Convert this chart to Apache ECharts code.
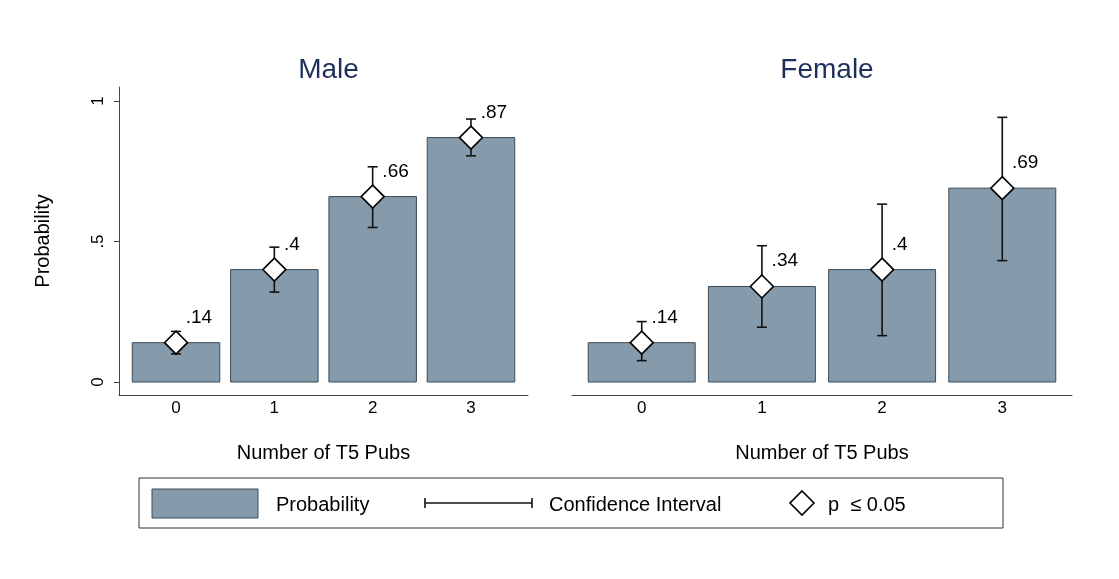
<!DOCTYPE html>
<html>
<head>
<meta charset="utf-8">
<script src="https://cdn.jsdelivr.net/npm/echarts@6/dist/echarts.min.js"></script>
<style>
  html, body { margin: 0; padding: 0; background: #fff; }
  #chart { width: 1119px; height: 579px; }
</style>
</head>
<body>
<div id="chart"></div>
<script>
// data
const categories = [0, 1, 2, 3];
const panelTitles = ['Male', 'Female'];
const maleProb = [0.14, 0.40, 0.66, 0.87];
const maleLow = [0.10, 0.32, 0.55, 0.805];
const maleHigh = [0.18, 0.48, 0.766, 0.936];
const femaleProb = [0.14, 0.34, 0.40, 0.69];
const femaleLow = [0.076, 0.195, 0.165, 0.432];
const femaleHigh = [0.215, 0.485, 0.633, 0.942];
const yTicks = [0, 0.5, 1];
const yTickLabels = ['0', '.5', '1'];

const barColor = '#859aab';
const barEdge = '#3c4a56';
const font = 'Liberation Sans, Arial, Helvetica, sans-serif';
const halfBar = 0.445;

const chart = echarts.init(document.getElementById('chart'));

function fmt(v) {
  return String(+v.toFixed(2)).replace(/^0/, '');
}

function xAxisFor(i) {
  return {
    type: 'value', gridIndex: i, min: -0.58, max: 3.58,
    name: 'Number of T5 Pubs', nameLocation: 'middle', nameGap: 48,
    nameTextStyle: { fontFamily: font, fontSize: 20, color: '#000' },
    axisLine: { onZero: false, lineStyle: { color: '#444', width: 1 } },
    axisTick: { show: false },
    splitLine: { show: false },
    axisLabel: {
      customValues: categories, margin: 5,
      fontFamily: font, fontSize: 17, color: '#000',
      formatter: v => String(v)
    }
  };
}

function yAxisFor(i) {
  return {
    type: 'value', gridIndex: i, min: -0.0463, max: 1.05,
    show: i === 0,
    name: i === 0 ? 'Probability' : '', nameLocation: 'middle', nameGap: 66,
    nameTextStyle: { fontFamily: font, fontSize: 20, color: '#000' },
    axisLine: { show: true, onZero: false, lineStyle: { color: '#444', width: 1 } },
    axisTick: { show: true, customValues: yTicks, length: 5, lineStyle: { color: '#444' } },
    splitLine: { show: false },
    axisLabel: {
      customValues: yTicks, rotate: 90, margin: 12,
      fontFamily: font, fontSize: 17, color: '#000',
      formatter: v => yTickLabels[yTicks.indexOf(v)]
    }
  };
}

function barSeries(i, vals) {
  return {
    type: 'custom', xAxisIndex: i, yAxisIndex: i,
    data: categories.map((c, k) => [c, vals[k]]),
    renderItem: (params, api) => {
      const x = api.value(0), y = api.value(1);
      const p0 = api.coord([x - halfBar, 0]);
      const p1 = api.coord([x + halfBar, y]);
      return {
        type: 'rect',
        shape: { x: p0[0], y: p1[1], width: p1[0] - p0[0], height: p0[1] - p1[1] },
        style: { fill: barColor, stroke: barEdge, lineWidth: 1 }
      };
    },
    z: 1
  };
}

function ciSeries(i, lo, hi) {
  return {
    type: 'custom', xAxisIndex: i, yAxisIndex: i,
    data: categories.map((c, k) => [c, lo[k], hi[k]]),
    renderItem: (params, api) => {
      const x = api.value(0);
      const a = api.coord([x, api.value(1)]);
      const b = api.coord([x, api.value(2)]);
      const cap = 5;
      const st = { stroke: '#111', lineWidth: 1.6 };
      return {
        type: 'group',
        children: [
          { type: 'line', shape: { x1: a[0], y1: a[1], x2: b[0], y2: b[1] }, style: st },
          { type: 'line', shape: { x1: a[0] - cap, y1: a[1], x2: a[0] + cap, y2: a[1] }, style: st },
          { type: 'line', shape: { x1: b[0] - cap, y1: b[1], x2: b[0] + cap, y2: b[1] }, style: st }
        ]
      };
    },
    z: 2
  };
}

function pointSeries(i, vals) {
  return {
    type: 'scatter', xAxisIndex: i, yAxisIndex: i,
    data: categories.map((c, k) => [c, vals[k]]),
    symbol: 'diamond', symbolSize: 23,
    itemStyle: { color: '#fff', borderColor: '#000', borderWidth: 1.6, opacity: 1 },
    label: {
      show: true, position: [22, -13], align: 'left', verticalAlign: 'middle',
      fontFamily: font, fontSize: 19, color: '#000',
      formatter: p => fmt(p.value[1])
    },
    emphasis: { disabled: true },
    z: 3
  };
}

const grids = [
  { left: 119, top: 87, width: 409, height: 308 },
  { left: 572, top: 87, width: 500, height: 308 }
];

chart.setOption({
  backgroundColor: '#fff',
  animation: false,
  title: panelTitles.map((t, i) => ({
    text: t,
    left: grids[i].left + grids[i].width / 2, top: 51, textAlign: 'center',
    textStyle: { fontFamily: font, fontSize: 28, fontWeight: 'normal', color: '#1f2f5c' }
  })),
  grid: grids,
  xAxis: [xAxisFor(0), xAxisFor(1)],
  yAxis: [yAxisFor(0), yAxisFor(1)],
  series: [
    barSeries(0, maleProb), ciSeries(0, maleLow, maleHigh), pointSeries(0, maleProb),
    barSeries(1, femaleProb), ciSeries(1, femaleLow, femaleHigh), pointSeries(1, femaleProb)
  ],
  graphic: [
    { type: 'rect', shape: { x: 139, y: 478, width: 864, height: 50 },
      style: { fill: '#fff', stroke: '#333', lineWidth: 1 } },
    { type: 'rect', shape: { x: 152, y: 489, width: 106, height: 29 },
      style: { fill: barColor, stroke: barEdge, lineWidth: 1 } },
    { type: 'text', x: 276, y: 505,
      style: { text: 'Probability', font: '20px ' + font, fill: '#000', verticalAlign: 'middle' } },
    { type: 'polyline', shape: { points: [[425, 503], [532, 503]] },
      style: { stroke: '#111', lineWidth: 1.6 } },
    { type: 'polyline', shape: { points: [[425, 498], [425, 508]] },
      style: { stroke: '#111', lineWidth: 1.6 } },
    { type: 'polyline', shape: { points: [[532, 498], [532, 508]] },
      style: { stroke: '#111', lineWidth: 1.6 } },
    { type: 'text', x: 549, y: 505,
      style: { text: 'Confidence Interval', font: '20px ' + font, fill: '#000', verticalAlign: 'middle' } },
    { type: 'polygon', shape: { points: [[802, 491], [814, 503], [802, 515], [790, 503]] },
      style: { fill: '#fff', stroke: '#000', lineWidth: 1.6 } },
    { type: 'text', x: 828, y: 505,
      style: { text: 'p  \u2264 0.05', font: '20px ' + font, fill: '#000', verticalAlign: 'middle' } }
  ]
});
</script>
</body>
</html>
